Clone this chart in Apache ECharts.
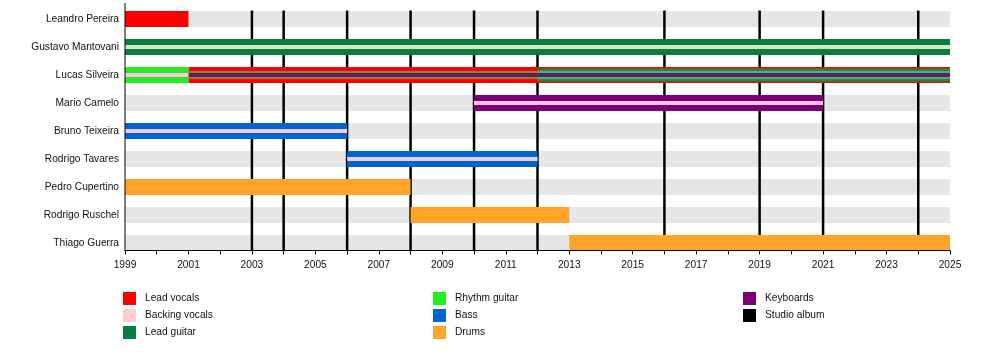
<!DOCTYPE html>
<html><head><meta charset="utf-8">
<script src="https://cdn.jsdelivr.net/npm/echarts@6/dist/echarts.min.js"></script>
<style>html,body{margin:0;padding:0;background:#fff}#c{width:1000px;height:360px}</style>
</head><body><div id="c"></div>
<script>
// ---------- data ----------
const members = ['Leandro Pereira','Gustavo Mantovani','Lucas Silveira','Mario Camelo','Bruno Teixeira','Rodrigo Tavares','Pedro Cupertino','Rodrigo Ruschel','Thiago Guerra'];
const legendCol1 = ['Lead vocals','Backing vocals','Lead guitar'];
const legendCol2 = ['Rhythm guitar','Bass','Drums'];
const legendCol3 = ['Keyboards','Studio album'];
const albumYears = [2003,2004,2006,2008,2010,2012,2016,2019,2021,2024];
const yearStart = 1999, yearEnd = 2025;
// [member, role, start, end]
const stints = [
  ['Leandro Pereira','Lead vocals',1999,2001],
  ['Gustavo Mantovani','Lead guitar',1999,2025],
  ['Gustavo Mantovani','Backing vocals',1999,2025],
  ['Lucas Silveira','Rhythm guitar',1999,2001],
  ['Lucas Silveira','Backing vocals',1999,2001],
  ['Lucas Silveira','Lead vocals',2001,2025],
  ['Lucas Silveira','Rhythm guitar',2001,2025],
  ['Lucas Silveira','Lead guitar',2012,2025],
  ['Lucas Silveira','Keyboards',2001,2025],
  ['Mario Camelo','Keyboards',2010,2021],
  ['Mario Camelo','Backing vocals',2010,2021],
  ['Bruno Teixeira','Bass',1999,2006],
  ['Bruno Teixeira','Backing vocals',1999,2006],
  ['Rodrigo Tavares','Bass',2006,2012],
  ['Rodrigo Tavares','Backing vocals',2006,2012],
  ['Pedro Cupertino','Drums',1999,2008],
  ['Rodrigo Ruschel','Drums',2008,2013],
  ['Thiago Guerra','Drums',2013,2025]
];

// ---------- styles ----------
const roleColor = {
  'Lead vocals':'#ff0000','Backing vocals':'#ffcdd0','Lead guitar':'#06803f',
  'Rhythm guitar':'#22ee22','Bass':'#0066cc','Drums':'#ffa32a','Keyboards':'#7b0076',
  'Studio album':'#000000'
};
const overlayColor = {
  'Backing vocals|Lead guitar':'#dde2c2',
  'Backing vocals|Keyboards':'#ffc2e2',
  'Backing vocals|Bass':'#f3cbe6',
  'Backing vocals|Rhythm guitar':'#ffc4dc',
  'Rhythm guitar|Lead vocals':'#8a8a1c',
  'Rhythm guitar|Lead guitar':'#3dbd72',
  'Lead guitar|Lead vocals':'#1b8a4a',
  'Keyboards|Rhythm guitar':'#661a6a'
};
const drawOrder = ['Lead vocals','Lead guitar','Rhythm guitar','Bass','Drums','Keyboards','Backing vocals'];
const FULL = 16/28;
const thinFrac = {'Lead vocals':13/28,'Lead guitar':13/28,'Rhythm guitar':8/28,'Bass':8/28,'Drums':8/28,'Keyboards':4/28,'Backing vocals':4/28};
const FONT = 'Liberation Sans', FS = 10.2;

const items = stints.map((s,i)=>({member:s[0],role:s[1],start:s[2],end:s[3],idx:i}));
items.forEach(it=>{
  it.primary = !items.some(o=>o.idx<it.idx && o.member===it.member && o.start<it.end && o.end>it.start);
});
const rank = o => drawOrder.indexOf(o.role)*100 + o.idx;
const pieces = {}; drawOrder.forEach(r=>pieces[r]=[]);
items.forEach(it=>{
  const mi = members.indexOf(it.member);
  if(it.primary){ pieces[it.role].push({value:[it.start,it.end,mi],frac:FULL,color:roleColor[it.role]}); return; }
  const below = items.filter(o=>o!==it && o.member===it.member && rank(o)<rank(it) && o.start<it.end && o.end>it.start);
  let cuts=[it.start,it.end];
  below.forEach(o=>{ if(o.start>it.start&&o.start<it.end)cuts.push(o.start); if(o.end>it.start&&o.end<it.end)cuts.push(o.end); });
  cuts = Array.from(new Set(cuts)).sort((a,b)=>a-b);
  for(let k=0;k<cuts.length-1;k++){
    const a=cuts[k], b=cuts[k+1];
    const cov = below.filter(o=>o.start<=a && o.end>=b).sort((x,y)=>rank(y)-rank(x));
    const top = cov[0];
    const color = (top && overlayColor[it.role+'|'+top.role]) || roleColor[it.role];
    pieces[it.role].push({value:[a,b,mi],frac:thinFrac[it.role],color:color});
  }
});

function barRender(list){
  return function(params, api){
    const p = list[params.dataIndex];
    const a = api.coord([api.value(0), api.value(2)]);
    const b = api.coord([api.value(1), api.value(2)]);
    const band = api.size([0,1])[1];
    const h = band*p.frac;
    return {type:'rect', shape:{x:a[0], y:a[1]-h/2, width:b[0]-a[0], height:h}, style:{fill:p.color}};
  };
}

const series = [];
// background rows
const bgList = members.map((m,i)=>({value:[yearStart,yearEnd,i],frac:FULL,color:'#e6e6e6'}));
series.push({type:'custom', silent:true, renderItem:barRender(bgList), encode:{x:[0,1],y:2}, data:bgList.map(p=>p.value)});
// studio albums
series.push({type:'custom', name:'Studio album', silent:true, itemStyle:{color:'#000'},
  renderItem:function(params, api){
    const band = api.size([0,1])[1];
    const t = api.coord([api.value(0), 0]);
    const bt = api.coord([api.value(0), members.length-1]);
    return {type:'line', shape:{x1:t[0],y1:t[1]-band*FULL/2-0.5,x2:t[0],y2:bt[1]+band*FULL/2}, style:{stroke:'#000',lineWidth:2.5}};
  }, encode:{x:0}, data:albumYears.map(y=>[y])});
// role bars
drawOrder.forEach(r=>{
  const list = pieces[r];
  series.push({type:'custom', name:r, silent:true, itemStyle:{color:roleColor[r]},
    renderItem:barRender(list), encode:{x:[0,1],y:2}, data:list.map(p=>p.value)});
});
// left spine
series.push({type:'custom', silent:true, z:6,
  renderItem:function(params, api){
    const band = api.size([0,1])[1];
    const t = api.coord([yearStart, 0]);
    const bt = api.coord([yearStart, members.length-1]);
    return {type:'line', shape:{x1:t[0],y1:t[1]-band*FULL,x2:t[0],y2:bt[1]+band*FULL/2}, style:{stroke:'#000',lineWidth:1}};
  }, encode:{x:0}, data:[[yearStart]]});

const legendBase = {orient:'vertical', icon:'rect', itemWidth:13, itemHeight:13, itemGap:4, top:292, padding:0, selectedMode:false,
  textStyle:{fontSize:FS, color:'#111', fontFamily:FONT, padding:[0,0,0,4]}};

const chart = echarts.init(document.getElementById('c'), null, {renderer:'canvas'});
chart.setOption({
  animation:false,
  backgroundColor:'#fff',
  textStyle:{fontFamily:FONT},
  grid:{left:125, right:50, top:5, height:252, containLabel:false},
  xAxis:{type:'value', min:yearStart, max:yearEnd, interval:1, offset:-6.5, z:10,
    axisLine:{show:true, lineStyle:{color:'#000', width:1}},
    axisTick:{show:true, inside:false, length:4, lineStyle:{color:'#000'}},
    splitLine:{show:false},
    axisLabel:{fontSize:FS, fontFamily:FONT, color:'#111', margin:10, hideOverlap:false, showMinLabel:true, showMaxLabel:true,
      formatter:v=>((v-yearStart)%2===0 ? String(v) : '')}},
  yAxis:{type:'category', inverse:true, data:members,
    axisLine:{show:false}, axisTick:{show:false}, splitLine:{show:false},
    axisLabel:{fontSize:FS, fontFamily:FONT, color:'#111', margin:6}},
  legend:[
    Object.assign({left:123, data:legendCol1}, legendBase),
    Object.assign({left:433, data:legendCol2}, legendBase),
    Object.assign({left:743, data:legendCol3}, legendBase)
  ],
  series:series
});
</script></body></html>
